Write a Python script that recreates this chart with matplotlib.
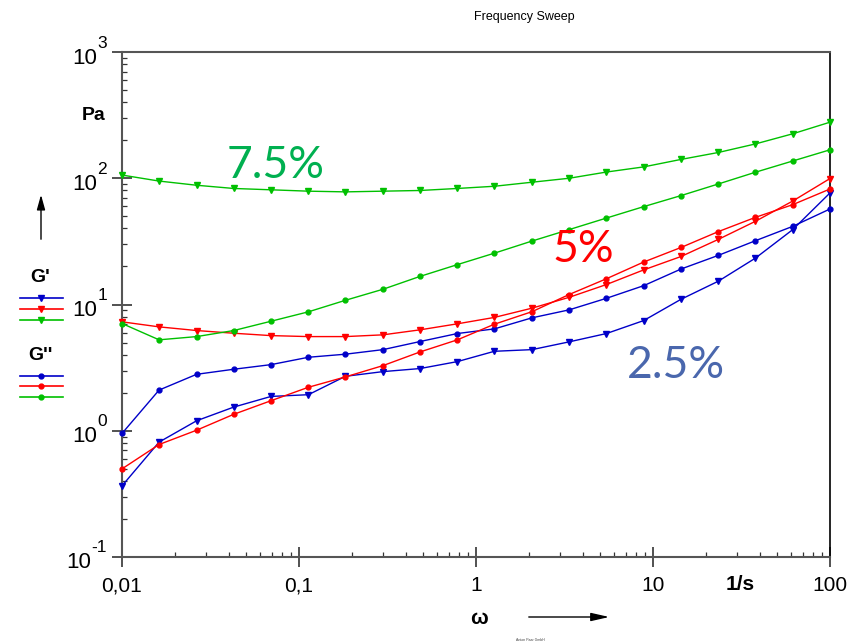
import matplotlib
matplotlib.use("Agg")
import matplotlib.pyplot as plt
from matplotlib.ticker import FixedLocator, FixedFormatter, LogLocator, NullFormatter

plt.rcParams['font.family'] = ['Liberation Sans', 'DejaVu Sans']

# angular frequency, 1/s
omega = [0.01, 0.0162, 0.0264, 0.0428, 0.0695, 0.113, 0.183, 0.298, 0.483, 0.785,
         1.27, 2.07, 3.36, 5.46, 8.86, 14.4, 23.4, 37.9, 61.6, 100]

# storage modulus G', Pa
g1_25 = [0.366, 0.813, 1.20, 1.54, 1.87, 1.93, 2.70, 2.94, 3.11, 3.53,
         4.26, 4.39, 5.06, 5.89, 7.46, 11.0, 15.3, 23.3, 39.2, 76.5]
g1_5 = [7.29, 6.65, 6.22, 5.92, 5.67, 5.57, 5.57, 5.75, 6.30, 7.03,
        7.9, 9.35, 11.4, 14.4, 18.8, 24.0, 32.8, 45.6, 66.0, 99.5]
g1_75 = [106, 95, 88, 83, 81, 79, 78, 79, 80, 83,
         86.4, 93, 100, 112, 123, 141, 160, 187, 225, 278]

# loss modulus G'', Pa
g2_25 = [0.952, 2.10, 2.80, 3.07, 3.34, 3.82, 4.04, 4.39, 5.09, 5.89,
         6.41, 7.84, 9.07, 11.2, 14.1, 19.1, 24.5, 32.0, 41.6, 57.1]
g2_5 = [0.499, 0.778, 1.01, 1.35, 1.73, 2.21, 2.67, 3.28, 4.21, 5.25,
        6.98, 8.77, 12.0, 16.0, 21.7, 28.3, 37.8, 49.0, 61.8, 82.2]
g2_75 = [7.07, 5.25, 5.57, 6.22, 7.37, 8.75, 10.8, 13.2, 16.7, 20.7,
         25.5, 31.8, 39.2, 48.4, 59.6, 72.9, 90.1, 111.6, 137, 168]

x_ticks = [0.01, 0.1, 1, 10, 100]
x_labels = ['0,01', '0,1', '1', '10', '100']
y_ticks = [0.1, 1, 10, 100, 1000]
y_exps = ['-1', '0', '1', '2', '3']

BLUE = '#0000c8'
RED = '#ff0000'
GREEN = '#00c000'
W, H = 853, 643

fig = plt.figure(figsize=(W / 100, H / 100), dpi=100)
ax = fig.add_axes([122 / W, 1 - 557 / H, (830 - 122) / W, (557 - 52) / H])

for g1, g2, col in [(g1_25, g2_25, BLUE), (g1_5, g2_5, RED), (g1_75, g2_75, GREEN)]:
    ax.plot(omega, g1, color=col, lw=1.0, marker='v', ms=4.5, clip_on=False, zorder=3)
    ax.plot(omega, g2, color=col, lw=1.0, marker='o', ms=3.5, clip_on=False, zorder=3)

ax.set_xscale('log')
ax.set_yscale('log')
ax.set_xlim(0.01, 100)
ax.set_ylim(0.1, 1000)

ax.xaxis.set_major_locator(FixedLocator(x_ticks))
ax.xaxis.set_major_formatter(FixedFormatter(x_labels))
ax.yaxis.set_major_locator(FixedLocator(y_ticks))
ax.yaxis.set_major_formatter(NullFormatter())
ax.xaxis.set_minor_locator(LogLocator(base=10, subs=range(2, 10), numticks=20))
ax.yaxis.set_minor_locator(LogLocator(base=10, subs=range(2, 10), numticks=20))
ax.xaxis.set_minor_formatter(NullFormatter())
ax.yaxis.set_minor_formatter(NullFormatter())

ax.tick_params(which='major', direction='inout', length=14, width=1.2, color='#333333')
ax.tick_params(which='minor', direction='in', length=3.5, width=0.9, color='#333333')
ax.tick_params(axis='x', which='major', labelsize=15, pad=7)
for side in ['left', 'bottom', 'top']:
    ax.spines[side].set_color('#555555')
    ax.spines[side].set_linewidth(1.5)
ax.spines['right'].set_color('black')
ax.spines['right'].set_linewidth(1.2)

# overlay in pixel coordinates for the annotations and the hand drawn legend
ov = fig.add_axes([0, 0, 1, 1], facecolor='none')
ov.set_xlim(0, W)
ov.set_ylim(H, 0)
ov.axis('off')

# y tick labels as "10" with a raised exponent (hyphen, not minus)
renderer = fig.canvas.get_renderer()
for val, ex in zip(y_ticks, y_exps):
    _, ypix = ax.transData.transform((0.01, val))
    ytop = H - ypix
    sup = ov.text(107, ytop - 9, ex, fontsize=12.5, ha='right', va='center')
    sw = sup.get_window_extent(renderer).width
    ov.text(107 - sw, ytop + 6, '10', fontsize=16, ha='right', va='center')

ov.text(524, 17, 'Frequency Sweep', fontsize=9, ha='center', va='center')
ov.text(94, 116, 'Pa', fontsize=14, fontweight='bold', ha='center', va='center')
ov.text(740, 585, '1/s', fontsize=15, fontweight='bold', ha='center', va='center')
ov.text(479, 619, '\u03c9', fontsize=15, fontweight='bold', ha='center', va='center')
ov.text(530, 640, 'Anton Paar GmbH', fontsize=2.5, ha='center', va='center', color='#444444')

ov.annotate('', xy=(41, 192), xytext=(41, 242),
            arrowprops=dict(arrowstyle='-|>,head_length=0.9,head_width=0.25', color='black', lw=1))
ov.annotate('', xy=(612, 617), xytext=(526, 617),
            arrowprops=dict(arrowstyle='-|>,head_length=1.1,head_width=0.25', color='black', lw=1))

ov.text(276, 165, '7.5%', fontsize=32, color='#00b050', ha='center', va='center', family='Lato')
ov.text(583, 250, '5%', fontsize=32, color=RED, ha='center', va='center', family='Lato')
ov.text(676, 365, '2.5%', fontsize=32, color='#4a67ad', ha='center', va='center', family='Lato')

ov.text(40, 277, "G'", fontsize=14, fontweight='bold', ha='center', va='center')
ov.text(40, 356, "G''", fontsize=14, fontweight='bold', ha='center', va='center')
for yl, col in zip([298, 308.5, 319.5], [BLUE, RED, GREEN]):
    ov.plot([20, 41.5, 63], [yl, yl, yl], color=col, lw=1.2, marker='v', ms=4.5, markevery=[1])
for yl, col in zip([376, 386, 397], [BLUE, RED, GREEN]):
    ov.plot([20, 41.5, 63], [yl, yl, yl], color=col, lw=1.2, marker='o', ms=3.5, markevery=[1])

fig.savefig('out.png', dpi=100)
